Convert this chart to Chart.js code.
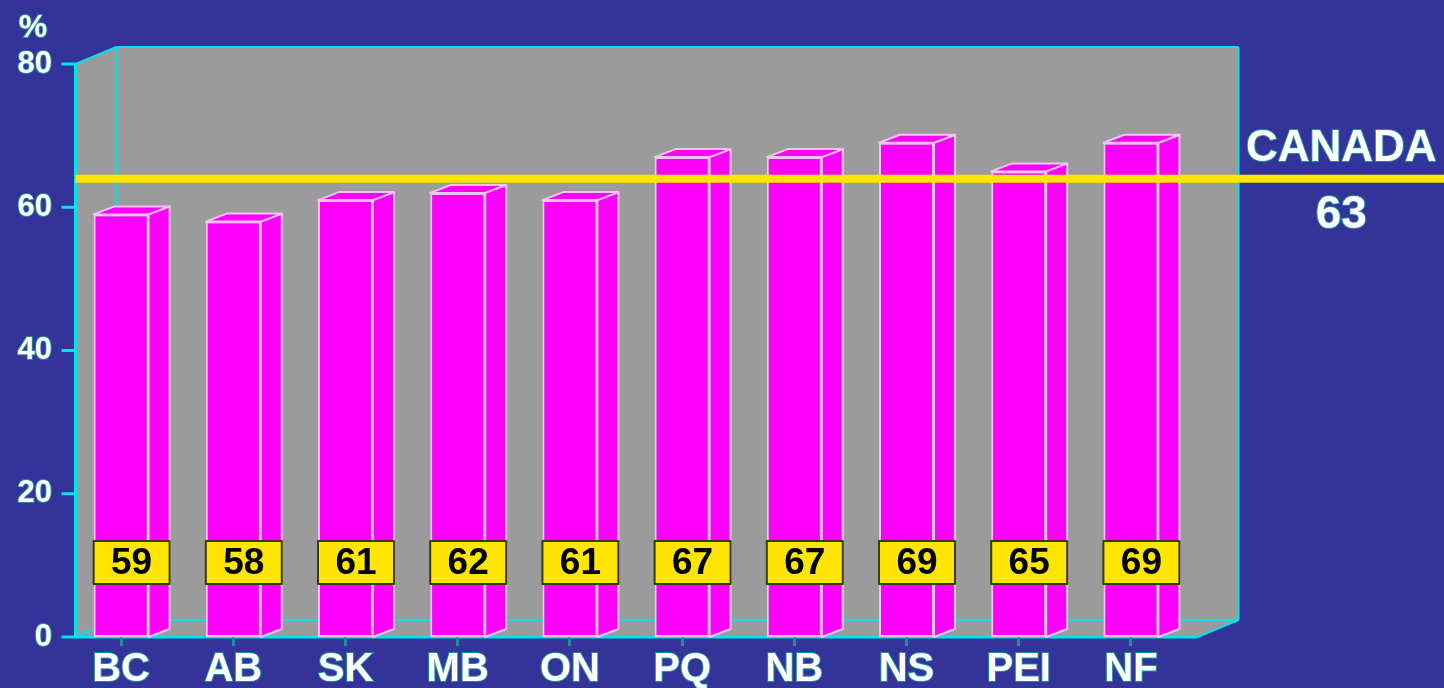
<!DOCTYPE html>
<html>
<head>
<meta charset="utf-8">
<script src="https://cdn.jsdelivr.net/npm/chart.js@4.4.1/dist/chart.umd.min.js"></script>
<style>
  html, body { margin: 0; padding: 0; background: #333399; overflow: hidden; }
  #wrap { width: 1444px; height: 688px; position: relative; }
</style>
</head>
<body>
<div id="wrap"><canvas id="rateChart"></canvas></div>
<script>
const provinces = ['BC', 'AB', 'SK', 'MB', 'ON', 'PQ', 'NB', 'NS', 'PEI', 'NF'];
const rates = [59, 58, 61, 62, 61, 67, 67, 69, 65, 69];
const canadaRate = 63;
const yTicks = [0, 20, 40, 60, 80];
const unitLabel = '%';
const canadaLabel = 'CANADA';

const BG = '#333399';
const WALL = '#9b9b9b';
const EDGE = '#00e4ec';
const TEAL = '#1f8f9c';
const MAGENTA = '#ff00ff';
const BAR_EDGE = '#f0c4f0';
const YELLOW = '#ffe600';
const FONT = "'Liberation Sans', Arial, sans-serif";

// depth of the box (walls) and of each bar, in px
const WALL_DX = 41, WALL_DY = 17;
const BAR_DX = 21, BAR_DY = 8;

function poly(ctx, pts) {
    ctx.beginPath();
    ctx.moveTo(pts[0][0], pts[0][1]);
    for (let i = 1; i < pts.length; i++) ctx.lineTo(pts[i][0], pts[i][1]);
    ctx.closePath();
}

function line(ctx, x1, y1, x2, y2, w) {
    ctx.lineWidth = w;
    ctx.beginPath();
    ctx.moveTo(x1, y1);
    ctx.lineTo(x2, y2);
    ctx.stroke();
}

function outlinedText(ctx, txt, x, y, size) {
    ctx.font = `bold ${size}px ${FONT}`;
    ctx.textAlign = 'center';
    ctx.textBaseline = 'middle';
    ctx.lineWidth = 2;
    ctx.strokeStyle = TEAL;
    ctx.strokeText(txt, x, y);
    ctx.fillStyle = '#ffffff';
    ctx.fillText(txt, x, y);
}

const box3d = {
    id: 'box3d',
    beforeDraw(chart) {
        const { ctx, chartArea: ca } = chart;
        const yScale = chart.scales.y;
        ctx.save();
        ctx.fillStyle = BG;
        ctx.fillRect(0, 0, chart.width, chart.height);

        // front plane sits half a bar depth right of the category band
        const fl = ca.left + BAR_DX / 2, fr = ca.right + BAR_DX / 2;
        const ft = ca.top, fb = ca.bottom;
        const bl = fl + WALL_DX, br = fr + WALL_DX, bt = ft - WALL_DY, bb = fb - WALL_DY;

        ctx.fillStyle = WALL;
        poly(ctx, [[fl, ft], [bl, bt], [br, bt], [br, bb], [fr, fb], [fl, fb]]);
        ctx.fill();

        ctx.strokeStyle = EDGE;
        line(ctx, bl, bt, bl, bb, 1.5);
        line(ctx, bl, bb, br, bb, 2);
        line(ctx, fl, fb, bl, bb, 2);
        line(ctx, fl, ft, bl, bt, 2);
        line(ctx, bl, bt, br, bt, 2);
        line(ctx, br, bt, br, bb, 2);
        line(ctx, fr, fb, br, bb, 2);
        line(ctx, fl, ft, fl, fb, 3);
        line(ctx, fl, fb, fr, fb, 3);

        // y tick marks
        yTicks.forEach(v => {
            const py = yScale.getPixelForValue(v);
            line(ctx, fl - 14, py, fl, py, 3);
        });

        outlinedText(ctx, unitLabel, 33, 28, 32);
        ctx.restore();
    },
    afterDatasetsDraw(chart) {
        const { ctx, chartArea: ca } = chart;
        const yScale = chart.scales.y;
        const meta = chart.getDatasetMeta(0);
        ctx.save();

        // side and top faces
        ctx.fillStyle = MAGENTA;
        ctx.strokeStyle = BAR_EDGE;
        ctx.lineWidth = 2;
        ctx.lineJoin = 'round';
        meta.data.forEach(bar => {
            const l = bar.x - bar.width / 2, r = bar.x + bar.width / 2;
            const t = bar.y, b = bar.base;
            poly(ctx, [[r, t], [r + BAR_DX, t - BAR_DY], [r + BAR_DX, b - BAR_DY], [r, b]]);
            ctx.fill(); ctx.stroke();
            poly(ctx, [[l, t], [l + BAR_DX, t - BAR_DY], [r + BAR_DX, t - BAR_DY], [r, t]]);
            ctx.fill(); ctx.stroke();
        });

        // national average line
        const fl = ca.left + BAR_DX / 2;
        const br = ca.right + BAR_DX / 2 + WALL_DX;
        const yc = yScale.getPixelForValue(canadaRate) - 7;
        ctx.strokeStyle = YELLOW;
        line(ctx, fl, yc, chart.width, yc, 8);

        // value boxes
        meta.data.forEach((bar, i) => {
            const l = bar.x - bar.width / 2, r = bar.x + bar.width / 2 + BAR_DX;
            const top = bar.base - 96, h = 43;
            ctx.fillStyle = YELLOW;
            ctx.fillRect(l, top, r - l, h);
            ctx.strokeStyle = '#3a3a12';
            ctx.lineWidth = 2;
            ctx.strokeRect(l, top, r - l, h);
            ctx.fillStyle = '#000000';
            ctx.font = `bold 37px ${FONT}`;
            ctx.textAlign = 'center';
            ctx.textBaseline = 'middle';
            ctx.fillText(String(rates[i]), (l + r) / 2, top + h / 2 + 1);
        });

        const cx = (br + chart.width) / 2;
        outlinedText(ctx, canadaLabel, cx, 149, 44);
        outlinedText(ctx, String(canadaRate), cx, 215, 46);
        ctx.restore();
    }
};

const ctx = document.getElementById('rateChart').getContext('2d');
new Chart(ctx, {
    type: 'bar',
    data: {
        labels: provinces,
        datasets: [{
            data: rates,
            backgroundColor: MAGENTA,
            borderColor: BAR_EDGE,
            borderWidth: 2,
            borderSkipped: false,
            barPercentage: 0.49,
            categoryPercentage: 1.0
        }]
    },
    options: {
        responsive: true,
        maintainAspectRatio: false,
        animation: false,
        layout: { padding: { top: 64, right: 257, left: 0, bottom: 0 } },
        plugins: { legend: { display: false }, tooltip: { enabled: false } },
        scales: {
            x: {
                offset: true,
                grid: { display: true, drawOnChartArea: false, drawTicks: true, tickLength: 9, offset: false, color: TEAL, lineWidth: 3 },
                border: { display: false },
                ticks: {
                    color: '#ffffff', padding: 0, maxRotation: 0, autoSkip: false,
                    font: { family: FONT, size: 40, weight: 'bold' },
                    textStrokeColor: TEAL, textStrokeWidth: 2
                },
                afterFit: s => { s.height = 51; }
            },
            y: {
                min: 0, max: 80,
                afterBuildTicks: s => { s.ticks = yTicks.map(v => ({ value: v })); },
                grid: { display: false, drawTicks: false },
                border: { display: false },
                ticks: {
                    color: '#ffffff', padding: 13,
                    font: { family: FONT, size: 31, weight: 'bold' },
                    textStrokeColor: TEAL, textStrokeWidth: 2
                },
                afterFit: s => { s.width = 65; }
            }
        }
    },
    plugins: [box3d]
});
</script>
</body>
</html>
